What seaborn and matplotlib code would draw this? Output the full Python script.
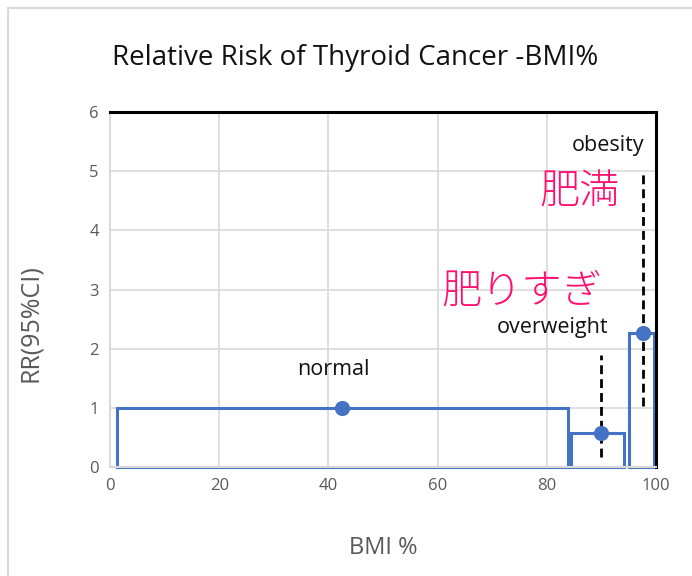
import matplotlib
matplotlib.use("Agg")
import matplotlib.pyplot as plt
import seaborn as sns
import pandas as pd
from matplotlib.lines import Line2D

# ---- data ----
groups = ["normal", "overweight", "obesity"]
box_left = [1.2, 84.5, 95.1]
box_right = [83.8, 94.1, 99.7]
rr = [1.0, 0.57, 2.27]
point_x = [42.4, 89.9, 97.6]
ci_low = [None, 0.17, 1.03]
ci_high = [None, 1.89, 4.99]
label_x = [41.0, 81.0, 91.2]
label_y = [1.64, 2.36, 5.44]
jp_labels = ["肥りすぎ", "肥満"]
jp_x = [75.5, 86.0]
jp_y = [2.96, 4.63]
x_ticks = [0, 20, 40, 60, 80, 100]
y_ticks = [0, 1, 2, 3, 4, 5, 6]

sns.set_theme(style="white")
plt.rcParams['font.family'] = ['Open Sans', 'Noto Sans CJK JP', 'DejaVu Sans']

fig = plt.figure(figsize=(6.92, 5.76), dpi=100)
ax = fig.add_axes([110/692, 1 - 467/576, (656-110)/692, (467-112)/576])

blue = "#4472C4"
grid_c = "#D9D9D9"
tick_c = "#595959"

ax.set_xlim(0, 100)
ax.set_ylim(0, 6)
ax.set_xticks(x_ticks)
ax.set_yticks(y_ticks)
ax.grid(True, color=grid_c, linewidth=1.2)
ax.set_axisbelow(True)

widths = [r - l for l, r in zip(box_left, box_right)]
bars = ax.bar(box_left, rr, width=widths, align="edge", fill=False,
              edgecolor=blue, linewidth=2.2, zorder=2)
for b in bars:
    b.set_clip_on(False)

for i in range(len(groups)):
    if ci_low[i] is not None:
        ax.vlines(point_x[i], ci_low[i], ci_high[i], colors="black",
                  linestyles=(0, (3.2, 1.8)), linewidth=2, zorder=3)

df = pd.DataFrame({"x": point_x, "y": rr, "g": groups})
sns.scatterplot(data=df, x="x", y="y", ax=ax, color=blue, s=120,
                edgecolor=blue, linewidth=0, zorder=4, legend=False)

for g, lx, ly in zip(groups, label_x, label_y):
    ax.text(lx, ly, g, ha="center", va="center", fontsize=15.5, color="#111111")
for t, jx, jy in zip(jp_labels, jp_x, jp_y):
    ax.text(jx, jy, t, ha="center", va="center", fontsize=29, color="#FF1070",
            family=['Noto Sans CJK JP'], fontweight="light")

for s in ["top", "right"]:
    ax.spines[s].set_color("black")
    ax.spines[s].set_linewidth(2.2)
for s in ["left", "bottom"]:
    ax.spines[s].set_color(grid_c)
    ax.spines[s].set_linewidth(1.5)

ax.tick_params(axis="both", colors=tick_c, labelsize=12, length=0, pad=8)
ax.set_xlabel("BMI %", fontsize=17, color=tick_c, labelpad=30)
ax.set_ylabel("RR(95%CI)", fontsize=18, color=tick_c)
ax.yaxis.set_label_coords((43 - 110) / 546, (467 - 323) / 355)

fig.text(355/692, 1 - 58/576, "Relative Risk of Thyroid Cancer -BMI%",
         ha="center", va="center", fontsize=20, color="#111111")

# figure frame (left and top edges)
fig.add_artist(Line2D([8/692, 8/692], [0, 1 - 8/576], transform=fig.transFigure,
                      color="#D9D9D9", linewidth=1.5))
fig.add_artist(Line2D([8/692, 1], [1 - 8/576, 1 - 8/576], transform=fig.transFigure,
                      color="#D9D9D9", linewidth=1.5))

fig.savefig("out.png", dpi=100)
